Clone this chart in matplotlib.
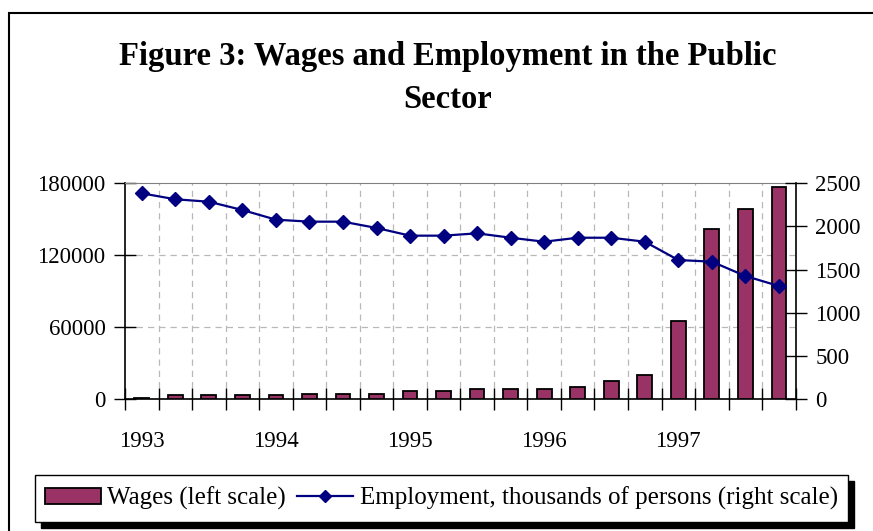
import matplotlib
matplotlib.use("Agg")
import matplotlib.pyplot as plt
from matplotlib.patches import Rectangle
from matplotlib.lines import Line2D
import numpy as np

plt.rcParams['font.family'] = ['Liberation Serif', 'DejaVu Serif']

# Data (quarterly, 1993Q1 - 1997Q4)
quarters = ["1993Q1", "1993Q2", "1993Q3", "1993Q4",
            "1994Q1", "1994Q2", "1994Q3", "1994Q4",
            "1995Q1", "1995Q2", "1995Q3", "1995Q4",
            "1996Q1", "1996Q2", "1996Q3", "1996Q4",
            "1997Q1", "1997Q2", "1997Q3", "1997Q4"]
wages = [1300, 3300, 3300, 3300, 3300, 4700, 4700, 4700, 6700, 6700,
         8300, 8300, 8300, 10000, 15000, 20000, 65000, 141700, 158300, 176700]
employment = [2384, 2315, 2287, 2191, 2079, 2056, 2056, 1983, 1894, 1894,
              1921, 1870, 1824, 1870, 1870, 1824, 1612, 1593, 1427, 1311]
year_labels = ["1993", "1994", "1995", "1996", "1997"]
left_ticks = [0, 60000, 120000, 180000]
right_ticks = [0, 500, 1000, 1500, 2000, 2500]

W, H = 873, 531
fig = plt.figure(figsize=(W / 100, H / 100), dpi=100)

# outer frame (cut off at right and bottom)
fig.add_artist(Rectangle((9 / W, -0.05), 1.2, (H - 13) / H + 0.05, transform=fig.transFigure,
                         fill=False, edgecolor='black', linewidth=1.5))

ax = fig.add_axes([125 / W, (H - 399.3) / H, (795.7 - 125) / W, (399.3 - 183.3) / H])
x = np.arange(len(quarters))

ax.bar(x, wages, width=0.44, color='#993366', edgecolor='black', linewidth=1.3, zorder=3)
ax.set_xlim(-0.5, len(quarters) - 0.5)
ax.set_ylim(0, 180000)
ax.set_yticks(left_ticks)
ax.set_yticklabels([str(v) for v in left_ticks], fontsize=16.5)

# x ticks: boundaries as minor ticks, year labels as major
ax.set_xticks(np.arange(-0.5, len(quarters), 1.0), minor=True)
ax.set_xticks(x[::4])
ax.set_xticklabels(year_labels, fontsize=16.5)
ax.tick_params(axis='x', which='major', length=0, pad=23)
ax.tick_params(axis='x', which='minor', direction='inout', length=16, width=1, color='black')
ax.tick_params(axis='y', direction='inout', length=16, width=1, pad=6)

# grid
for b in np.arange(0.5, len(quarters) - 0.5, 1.0):
    ax.axvline(b, color='#b8b8b8', linestyle=(0, (5, 4)), linewidth=0.9, zorder=1)
for t in left_ticks[1:-1]:
    ax.axhline(t, color='#b8b8b8', linestyle=(0, (5, 4)), linewidth=0.9, zorder=1)

ax.spines['top'].set_color('#808080')
ax.spines['left'].set_linewidth(1.2)
ax.spines['bottom'].set_linewidth(1.2)
ax.spines['right'].set_visible(False)

ax2 = ax.twinx()
ax2.plot(x, employment, color='#000080', linewidth=1.6, marker='D', markersize=7,
         markerfacecolor='#000080', markeredgecolor='#000080', zorder=4)
ax2.set_ylim(0, 2500)
ax2.set_yticks(right_ticks)
ax2.set_yticklabels([str(v) for v in right_ticks], fontsize=16.5)
ax2.tick_params(axis='y', direction='inout', length=16, width=1, pad=6)
ax2.spines['right'].set_linewidth(1.2)
ax2.spines['top'].set_visible(False)
ax2.spines['left'].set_visible(False)
ax2.spines['bottom'].set_visible(False)

# title
fig.text(447.5 / W, 1 - 57 / H, "Figure 3: Wages and Employment in the Public",
         ha='center', va='center', fontsize=23.5, fontweight='bold')
fig.text(447.5 / W, 1 - 99 / H, "Sector",
         ha='center', va='center', fontsize=23.5, fontweight='bold')

# legend box with shadow
bx0, bx1, by0, by1 = 35, 848, 475, 522
fig.add_artist(Rectangle(((bx0 + 6) / W, 1 - (by1 + 6) / H), (bx1 - bx0) / W, (by1 - by0) / H,
                         transform=fig.transFigure, facecolor='black', edgecolor='black'))
fig.add_artist(Rectangle((bx0 / W, 1 - by1 / H), (bx1 - bx0) / W, (by1 - by0) / H,
                         transform=fig.transFigure, facecolor='white', edgecolor='black',
                         linewidth=1.0))
handles = [Rectangle((0, 0), 1, 1, facecolor='#993366', edgecolor='black', linewidth=1.3),
           Line2D([], [], color='#000080', linewidth=1.6, marker='D', markersize=6)]
fig.legend(handles, ["Wages (left scale)", "Employment, thousands of persons (right scale)"],
           loc='center', bbox_to_anchor=(((bx0 + bx1) / 2) / W, 1 - ((by0 + by1) / 2) / H),
           ncol=2, frameon=False, fontsize=18, handlelength=2.24, handleheight=0.65,
           handletextpad=0.25, columnspacing=0.45, borderpad=0.2)

fig.savefig("out.png", dpi=100)
